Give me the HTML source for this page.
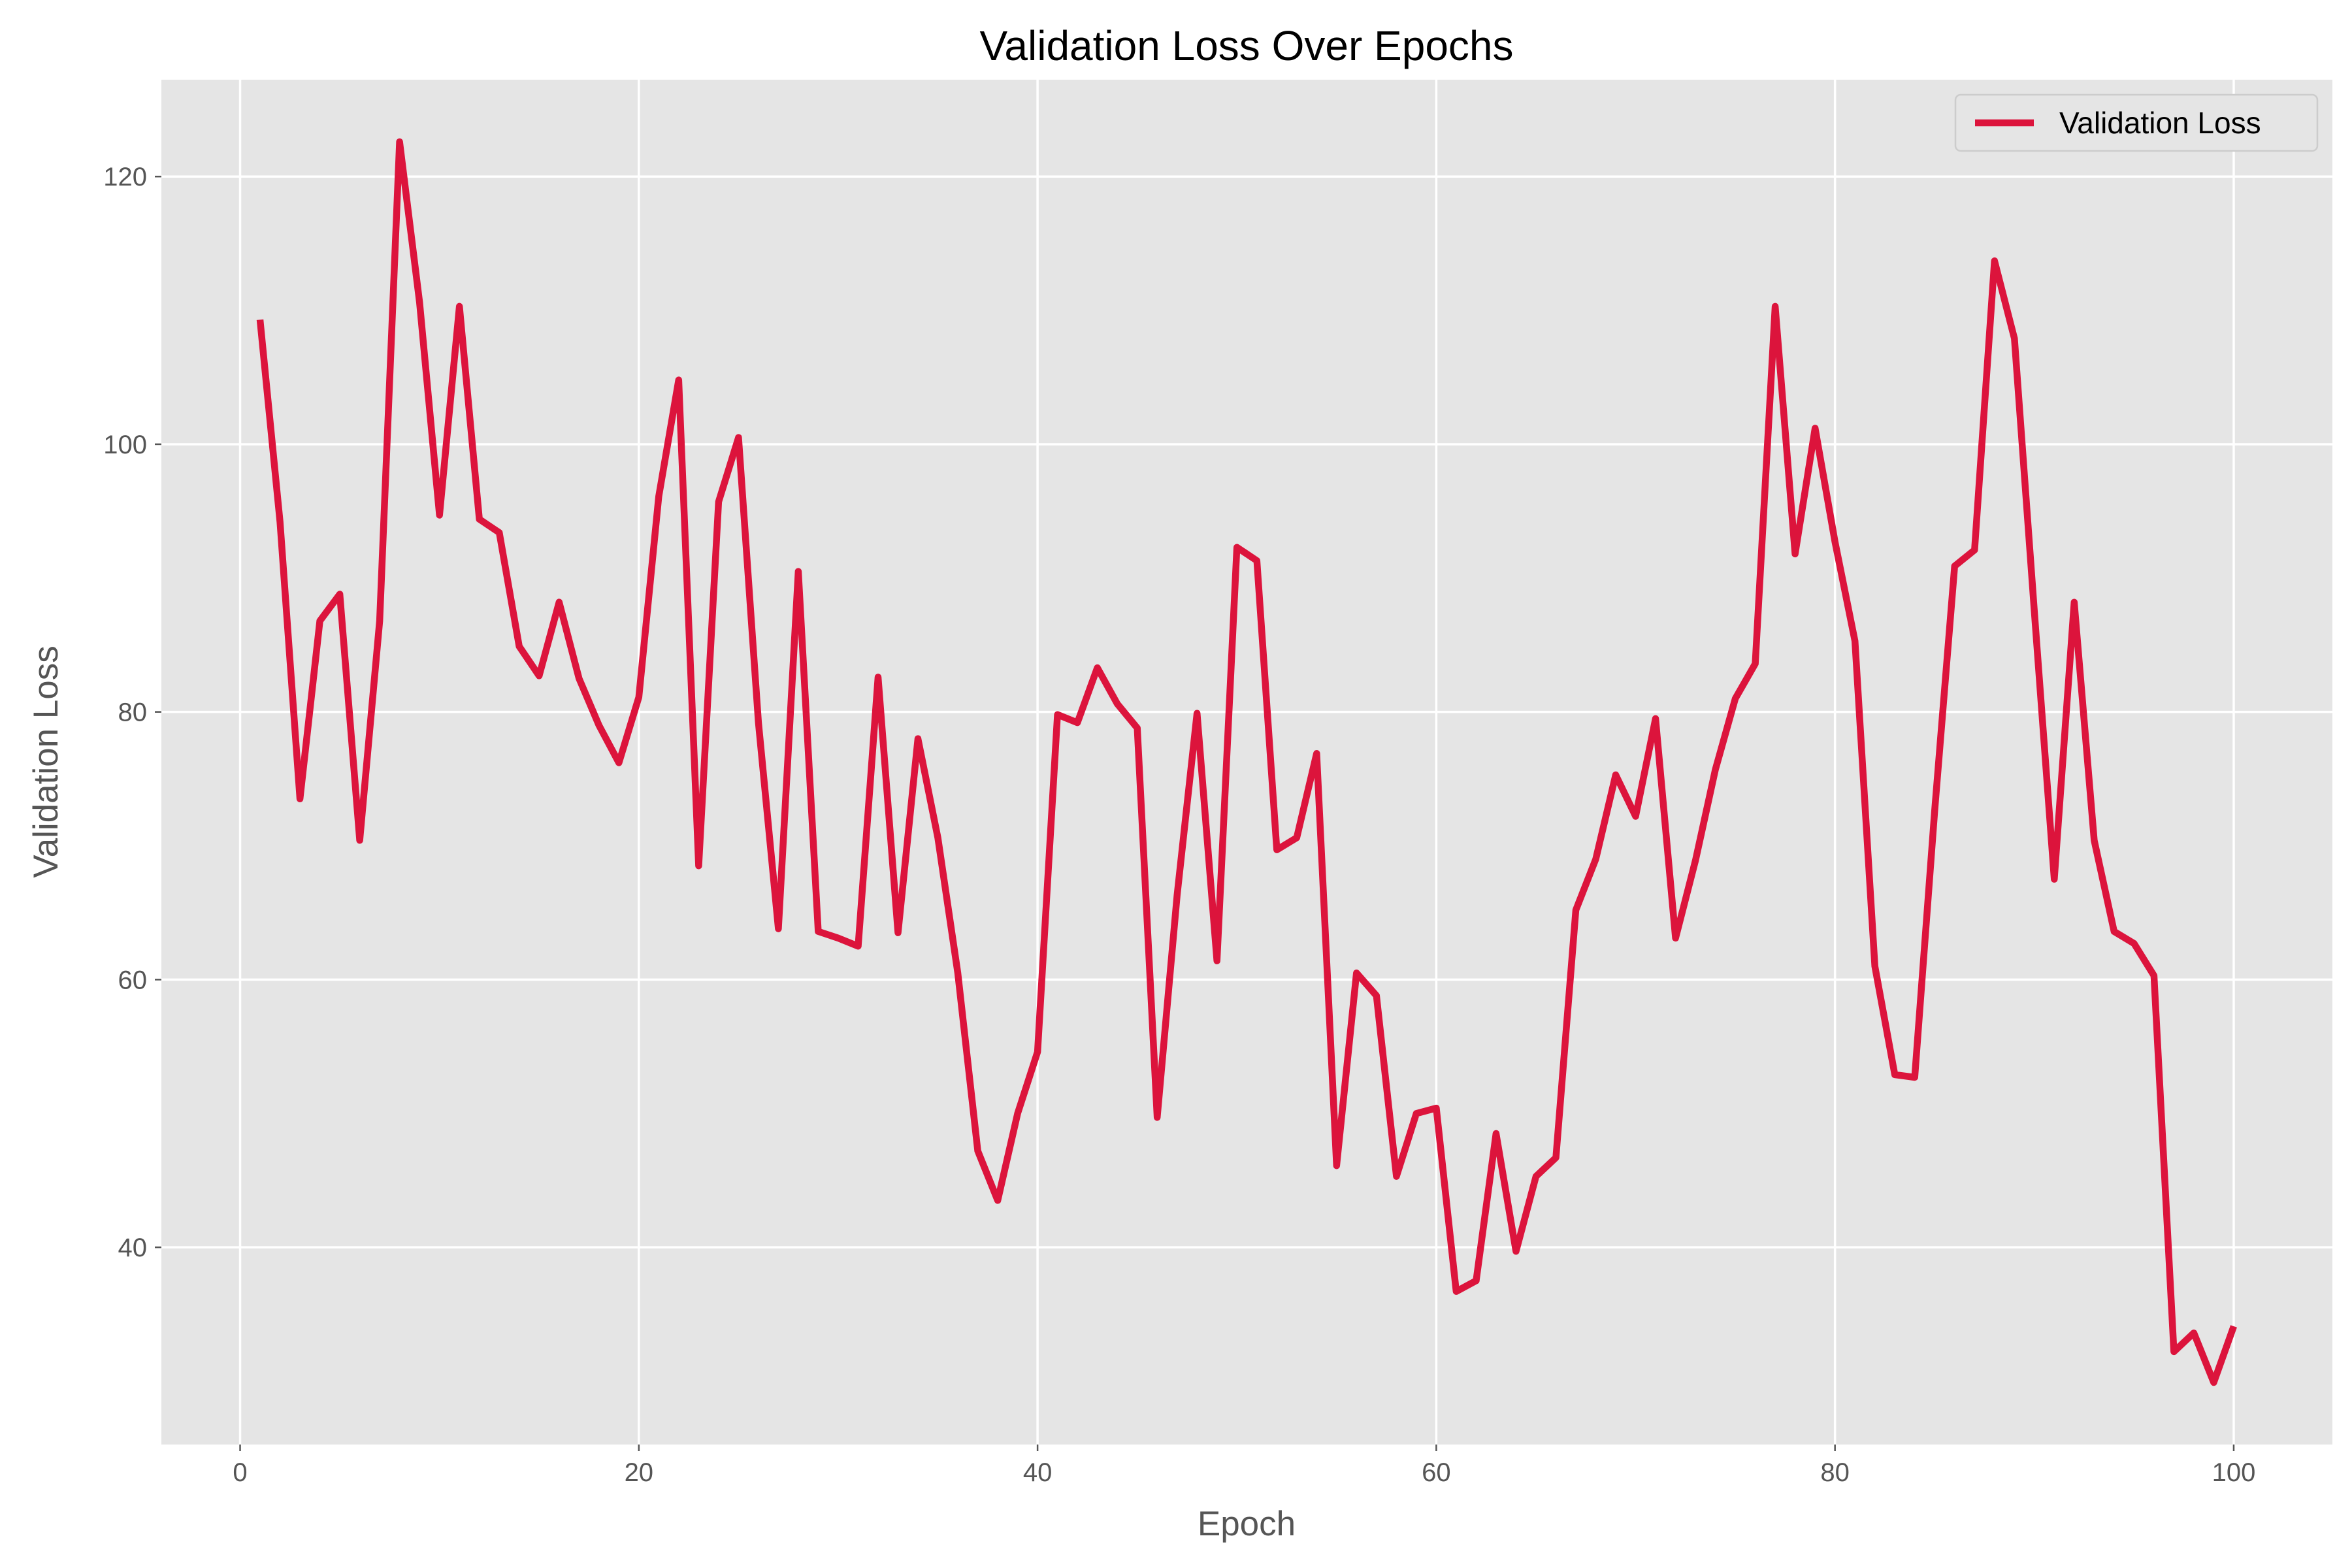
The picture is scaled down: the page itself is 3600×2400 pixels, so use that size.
<!DOCTYPE html>
<html><head><meta charset="utf-8"><style>
html,body{margin:0;padding:0;background:#fff;}
svg{display:block;font-family:"Liberation Sans","DejaVu Sans",sans-serif;}
</style></head><body>
<svg id="chart" width="3600" height="2400" viewBox="0 0 3600 2400" xmlns="http://www.w3.org/2000/svg">
<rect x="0" y="0" width="3600" height="2400" fill="#fff"/>
<rect x="247" y="122" width="3323" height="2089" fill="#e5e5e5"/>
<g id="grid"></g>
<g id="ticks"></g>
<polyline id="line" fill="none" stroke="#dc143c" stroke-width="10.5" stroke-linejoin="round" stroke-linecap="butt"/>
<text x="1908" y="92" text-anchor="middle" font-size="64" fill="#000">Validation Loss Over Epochs</text>
<text x="1908" y="2350" text-anchor="middle" font-size="53" fill="#555">Epoch</text>
<text transform="translate(88,1166) rotate(-90)" text-anchor="middle" font-size="53" fill="#555">Validation Loss</text>
<g>
<rect x="2993" y="145" width="554" height="86" rx="8" fill="#e5e5e5" stroke="#ccc" stroke-width="2.5"/>
<line x1="3023" y1="188" x2="3113" y2="188" stroke="#dc143c" stroke-width="10.5"/>
<text x="3152" y="204" font-size="46" fill="#000">Validation Loss</text>
</g>
</svg>
<script>
const epochs = Array.from({length:100},(_,i)=>i+1);
const lossValues = [109.3,94.2,73.5,86.8,88.8,70.4,86.8,122.6,110.6,94.7,
110.3,94.4,93.4,84.9,82.7,88.2,82.5,79.0,76.2,81.1,
96.1,104.8,68.5,95.7,100.5,79.2,63.8,90.5,63.6,63.1,
62.5,82.6,63.5,78.0,70.6,60.5,47.2,43.5,50.0,54.6,
79.8,79.2,83.3,80.6,78.8,49.7,66.3,79.9,61.4,92.3,
91.3,69.7,70.6,76.9,46.1,60.5,58.8,45.3,50.0,50.4,
36.7,37.5,48.5,39.7,45.3,46.7,65.2,69.0,75.3,72.2,
79.5,63.1,68.9,75.7,81.0,83.6,110.3,91.8,101.2,92.7,
85.3,61.0,52.9,52.7,72.6,90.9,92.1,113.7,107.9,87.5,
67.5,88.2,70.4,63.6,62.7,60.3,32.2,33.6,29.9,34.1];
const xTicks = [0,20,40,60,80,100];
const yTicks = [40,60,80,100,120];

const L=247,R=3570,T=122,B=2211;
const xmin=Math.min(...epochs),xmax=Math.max(...epochs);
const xpad=(xmax-xmin)*0.05;
const ymin0=Math.min(...lossValues),ymax0=Math.max(...lossValues);
const ypad=(ymax0-ymin0)*0.05;
const x0=xmin-xpad,x1=xmax+xpad,y0=ymin0-ypad,y1=ymax0+ypad;
const sx=v=>L+(v-x0)/(x1-x0)*(R-L);
const sy=v=>B-(v-y0)/(y1-y0)*(B-T);
const NS="http://www.w3.org/2000/svg";
const grid=document.getElementById('grid'), ticks=document.getElementById('ticks');
function mk(tag,attrs,parent){const e=document.createElementNS(NS,tag);for(const k in attrs)e.setAttribute(k,attrs[k]);parent.appendChild(e);return e;}
xTicks.forEach(t=>{
  const x=sx(t);
  const g=mk('line',{x1:x,x2:x,y1:T,y2:B,stroke:'#fff','stroke-width':3.5},grid);
  
  
  const tk=mk('line',{x1:x,x2:x,y1:B,y2:B+10,stroke:'#555','stroke-width':2.5},ticks);
  
  
  const tx=mk('text',{x:x,y:B+56,'text-anchor':'middle','font-size':40,fill:'#555'},ticks);
  tx.textContent=t;
  
  
});
yTicks.forEach(t=>{
  const y=sy(t);
  const g=mk('line',{x1:L,x2:R,y1:y,y2:y,stroke:'#fff','stroke-width':3.5},grid);
  
  
  const tk=mk('line',{x1:L-10,x2:L,y1:y,y2:y,stroke:'#555','stroke-width':2.5},ticks);
  
  
  const tx=mk('text',{x:L-22,y:y+14,'text-anchor':'end','font-size':40,fill:'#555'},ticks);
  tx.textContent=t;
  
  
});
document.getElementById('line').setAttribute('points',epochs.map((e,i)=>sx(e).toFixed(1)+','+sy(lossValues[i]).toFixed(1)).join(' '));
</script>
</body></html>
